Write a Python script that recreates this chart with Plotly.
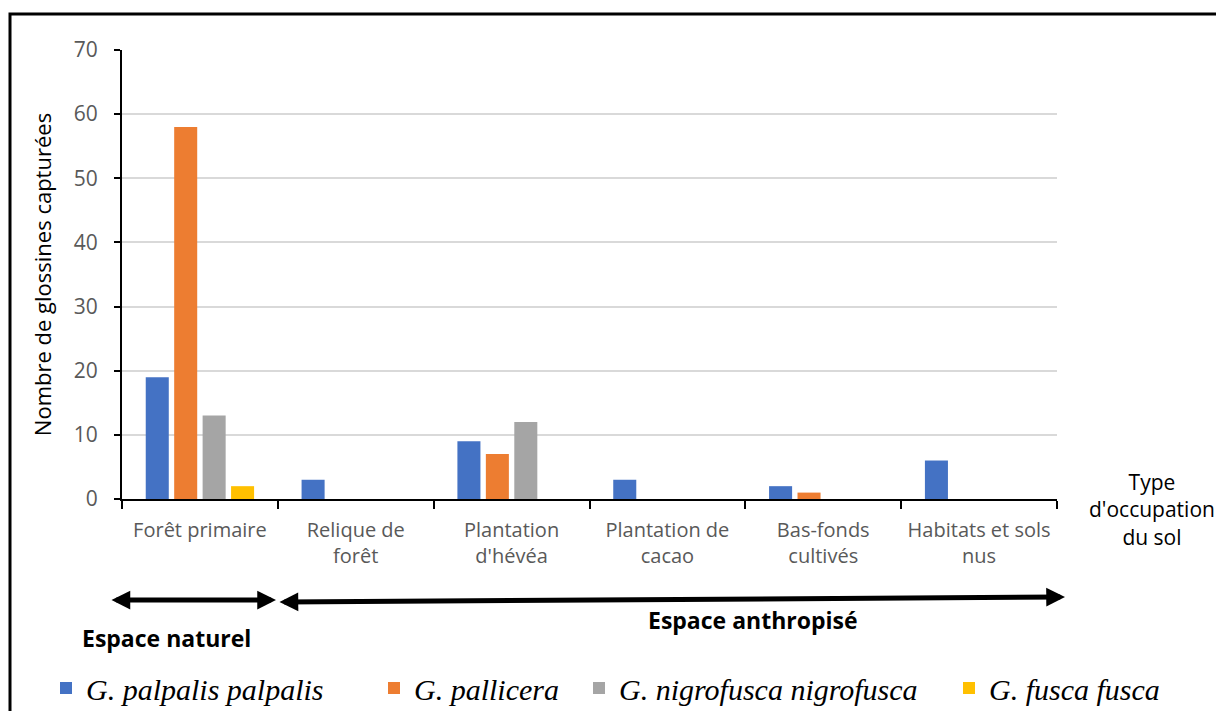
import plotly.graph_objects as go

categories = ["Forêt primaire", "Relique de<br>forêt", "Plantation<br>d'hévéa",
              "Plantation de<br>cacao", "Bas-fonds<br>cultivés", "Habitats et sols<br>nus"]
series_names = ["G. palpalis palpalis", "G. pallicera", "G. nigrofusca nigrofusca", "G. fusca fusca"]
palpalis = [19, 3, 9, 3, 2, 6]
pallicera = [58, 0, 7, 0, 1, 0]
nigrofusca = [13, 0, 12, 0, 0, 0]
fusca = [2, 0, 0, 0, 0, 0]
colors = ["#4472C4", "#ED7D31", "#A5A5A5", "#FFC000"]
legend_widths = [283, 160, 300, None]
legend_ids = ["legend", "legend", "legend", "legend2"]
y_ticks = [0, 10, 20, 30, 40, 50, 60, 70]

W, H = 1216, 711
L, R, T, B = 122, 1057, 50, 499


def px(x):
    return (x - L) / (R - L)


def py(y):
    return (B - y) / (B - T)


fig = go.Figure()
for name, vals, c, lw, lg in zip(series_names, [palpalis, pallicera, nigrofusca, fusca], colors,
                                 legend_widths, legend_ids):
    kw = dict(legendwidth=lw) if lw else {}
    fig.add_trace(go.Bar(x=categories, y=vals, name=name, marker_color=c, marker_line_width=0,
                         legend=lg, **kw))

font_sans = "Open Sans"
legend_font = dict(family="Liberation Serif", size=30, color="black", style="italic")
fig.update_layout(
    width=W, height=H,
    margin=dict(l=L, r=W - R, t=T, b=H - B, pad=0, autoexpand=False),
    paper_bgcolor="white", plot_bgcolor="white",
    barmode="group", bargap=0.27, bargroupgap=0.19,
    showlegend=True,
    legend=dict(orientation="h", x=px(46), y=py(688), xanchor="left", yanchor="middle",
                font=legend_font, bgcolor="rgba(0,0,0,0)", traceorder="normal"),
    legend2=dict(orientation="h", x=px(949), y=py(688), xanchor="left", yanchor="middle",
                 font=legend_font, bgcolor="rgba(0,0,0,0)"),
    font=dict(family=font_sans),
)
fig.update_xaxes(
    type="category", showline=True, linecolor="black", linewidth=2,
    ticks="outside", tickson="boundaries", ticklen=8, tickcolor="black", tickwidth=2,
    tickfont=dict(family=font_sans, size=20, color="#595959"),
    ticklabelstandoff=12,
    showgrid=False, zeroline=False, automargin=False,
)
fig.update_yaxes(
    range=[0, 70], tickvals=y_ticks, showline=True, linecolor="black", linewidth=2,
    ticks="outside", ticklen=6, tickcolor="black", tickwidth=2,
    tickfont=dict(family=font_sans, size=21, color="#595959"),
    ticklabelstandoff=12, automargin=False,
    showgrid=True, gridcolor="#D9D9D9", gridwidth=1.5, zeroline=False,
    title=dict(text="Nombre de glossines capturées", font=dict(family=font_sans, size=22, color="black"),
               standoff=16),
)

# Outer frame
fig.add_shape(type="rect", xref="paper", yref="paper",
              x0=px(10), x1=px(1232), y0=py(725), y1=py(14),
              line=dict(color="black", width=3), fillcolor="rgba(0,0,0,0)", layer="above")

ann = []
ann.append(dict(text="Type<br>d'occupation<br>du sol", x=px(1152), y=py(509), xref="paper", yref="paper",
                xanchor="center", yanchor="middle",
                showarrow=False, font=dict(family=font_sans, size=21, color="black"), align="center"))
ann.append(dict(text="<b>Espace naturel</b>", x=px(166), y=py(638), xref="paper", yref="paper",
                xanchor="center", yanchor="middle",
                showarrow=False, font=dict(family=font_sans, size=23, color="black")))
ann.append(dict(text="<b>Espace anthropisé</b>", x=px(753), y=py(620), xref="paper", yref="paper",
                xanchor="center", yanchor="middle",
                showarrow=False, font=dict(family=font_sans, size=23, color="black")))
# Double arrows
ann.append(dict(text="", x=px(276), y=py(600), xref="paper", yref="paper", showarrow=True,
                ax=-166, ay=0, axref="pixel", ayref="pixel", arrowside="end+start",
                arrowhead=2, arrowsize=0.75, arrowwidth=5, arrowcolor="black", standoff=0, startstandoff=0))
ann.append(dict(text="", x=px(1065), y=py(597), xref="paper", yref="paper", showarrow=True,
                ax=-787, ay=5, axref="pixel", ayref="pixel", arrowside="end+start",
                arrowhead=2, arrowsize=0.75, arrowwidth=5, arrowcolor="black", standoff=0, startstandoff=0))
fig.update_layout(annotations=ann)

fig.write_html("out.html", config={"displayModeBar": False},
               post_script="document.body.style.margin='0';")
